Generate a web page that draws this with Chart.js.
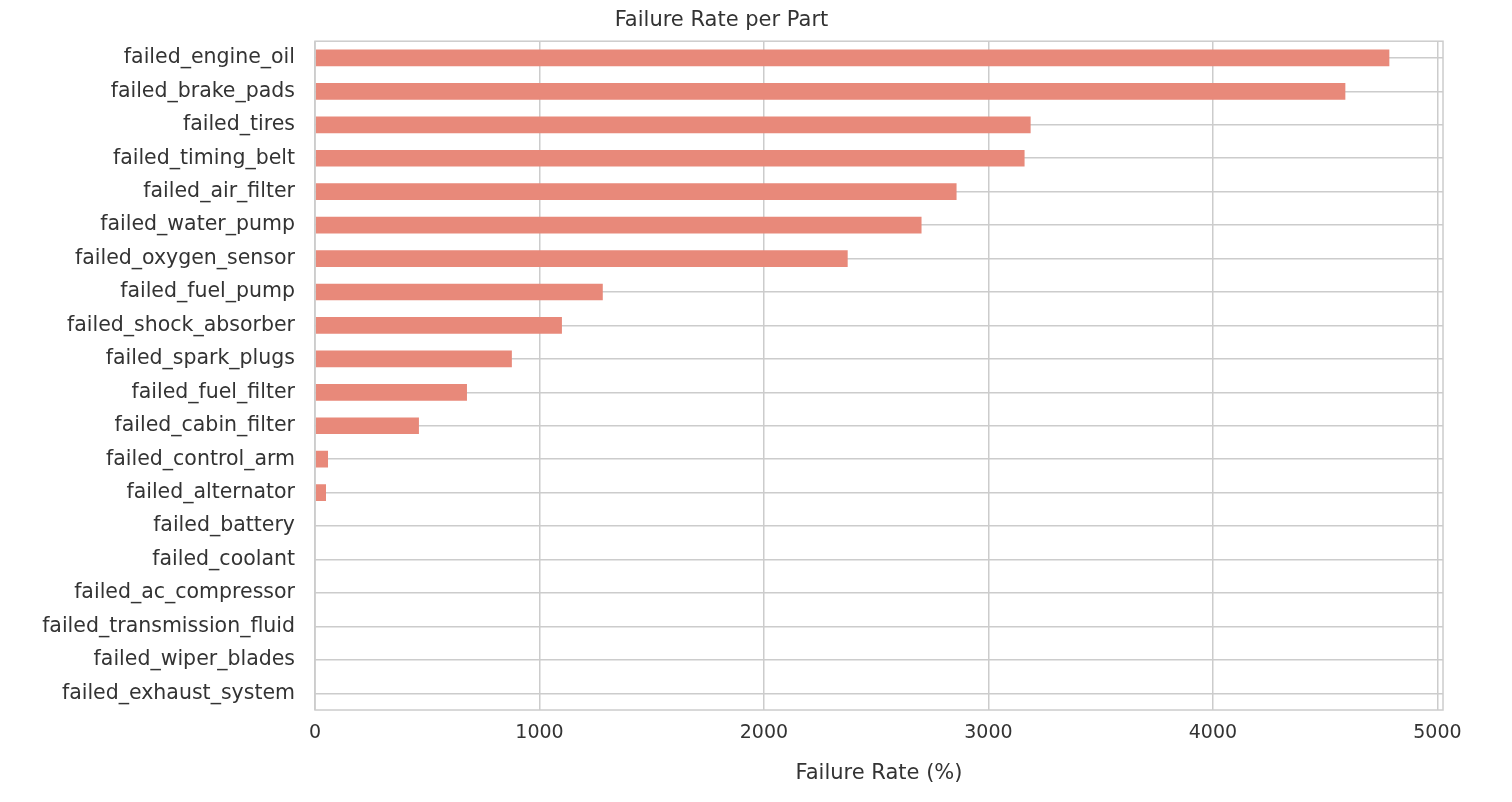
<!DOCTYPE html>
<html><head><meta charset="utf-8">
<script src="https://cdn.jsdelivr.net/npm/chart.js@4"></script>
<style>html,body{margin:0;padding:0;background:#fff}#w{width:1512px;height:802px}</style>
</head><body><div id="w"><canvas id="c"></canvas></div>
<script>
const categories = ["failed_engine_oil","failed_brake_pads","failed_tires","failed_timing_belt","failed_air_filter","failed_water_pump","failed_oxygen_sensor","failed_fuel_pump","failed_shock_absorber","failed_spark_plugs","failed_fuel_filter","failed_cabin_filter","failed_control_arm","failed_alternator","failed_battery","failed_coolant","failed_ac_compressor","failed_transmission_fluid","failed_wiper_blades","failed_exhaust_system"];
const failureRates = [4786,4590,3188,3161,2858,2702,2373,1282,1100,877,677,463,58,49,0,0,0,0,0,0];
const xTicks = [0,1000,2000,3000,4000,5000];

const frame = {id:'frame', afterDraw(ch){const a=ch.chartArea,c=ch.ctx;c.save();c.strokeStyle='#cccccc';c.lineWidth=1.5;c.strokeRect(a.left,a.top,a.right-a.left,a.bottom-a.top);c.restore();}};
Chart.defaults.font.family = "'DejaVu Sans', sans-serif";
Chart.defaults.color = '#333';
new Chart(document.getElementById('c'), {
  type:'bar',
  data:{labels:categories, datasets:[{data:failureRates, backgroundColor:'#e8897a', barPercentage:0.5, categoryPercentage:1}]},
  options:{
    indexAxis:'y', responsive:true, maintainAspectRatio:false, animation:false,
    layout:{padding:{top:6,right:69,bottom:12,left:0}},
    plugins:{legend:{display:false}, tooltip:{enabled:false},
      title:{display:true,text:'Failure Rate per Part',font:{size:21,weight:'normal'},color:'#333',padding:{top:2,bottom:8}}},
    scales:{
      x:{min:0,max:5025, afterBuildTicks(s){s.ticks=xTicks.map(v=>({value:v}));},
        grid:{color:'#cccccc',lineWidth:1.5,tickLength:0}, border:{display:false},
        ticks:{font:{size:19},padding:12,color:'#333',callback:v=>String(v)},
        title:{display:true,text:'Failure Rate (%)',font:{size:21},color:'#333',padding:{top:4}}},
      y:{grid:{color:'#cccccc',lineWidth:1.5,offset:false,tickLength:0}, border:{display:false}, offset:true,
        afterFit(s){s.width=315;},
        ticks:{font:{size:20.5},padding:20,color:'#333',autoSkip:false}}
    }
  },
  plugins:[frame]
});
</script></body></html>
